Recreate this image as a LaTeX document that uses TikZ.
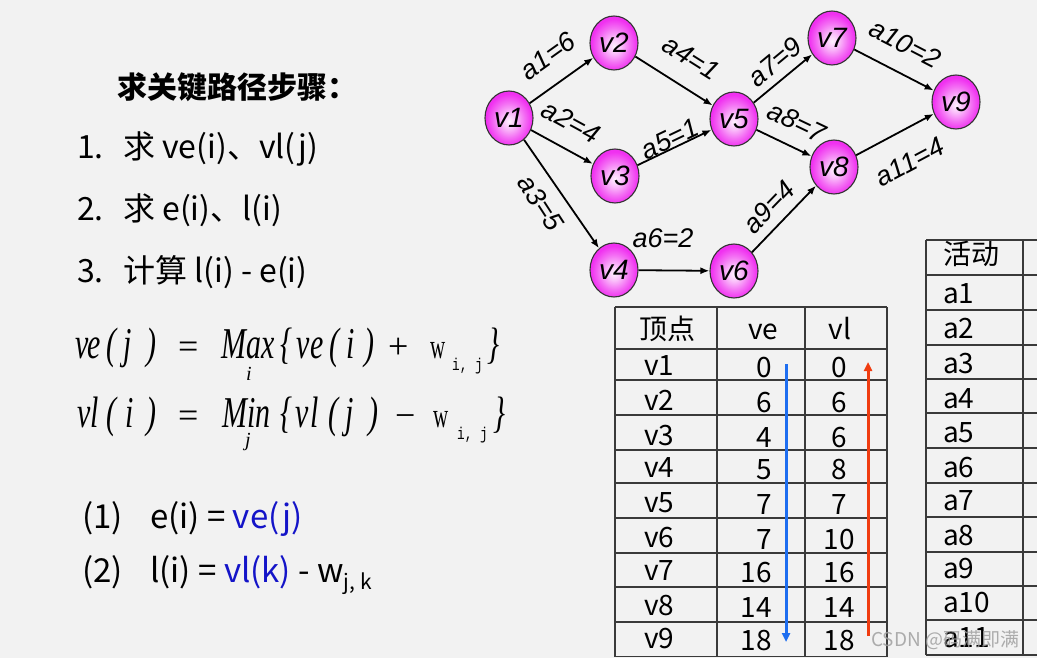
\documentclass[tikz,border=0pt]{standalone}
\usepackage{graphicx}
\usepackage{fontspec}
\setmainfont{Noto Sans CJK SC}
\newfontfamily\serifn{Liberation Serif}
\newfontfamily\monof{Liberation Mono}
\newfontfamily\labf{Liberation Sans}
\usetikzlibrary{shapes.geometric,arrows.meta}
\definecolor{bg}{HTML}{F2F2F2}
\definecolor{nodein}{HTML}{FFF2FF}
\definecolor{nodemid1}{HTML}{FAC0FA}
\definecolor{nodemid2}{HTML}{F470F4}
\definecolor{nodeout}{HTML}{F030F0}
\definecolor{formblue}{HTML}{1414C8}
\definecolor{arrblue}{HTML}{1E6EF0}
\definecolor{arrred}{HTML}{F03C10}
\definecolor{gridc}{HTML}{3A3A3A}
\pgfdeclareradialshading{nodeshade}{\pgfpoint{0bp}{-3bp}}{color(0bp)=(nodein); color(7bp)=(nodemid1); color(16bp)=(nodemid2); color(24bp)=(nodeout); color(50bp)=(nodeout)}
\newcommand{\fmit}[1]{\scalebox{0.68}[1]{\serifn\itshape\fontsize{44}{44}\selectfont #1}}
\newcommand{\fmup}[1]{{\serifn\fontsize{36}{36}\selectfont #1}}
\newcommand{\fmw}{\scalebox{0.6}[1]{\serifn\fontsize{35}{35}\selectfont w}}
\newcommand{\fmij}{\scalebox{0.75}[1]{\monof\fontsize{17}{17}\selectfont i, j}}
\tikzset{
  txt/.style={inner sep=0pt, anchor=base west},
  vert/.style={ellipse, draw=black!80, line width=1.1pt, shading=nodeshade,
    minimum width=48pt, minimum height=54pt, inner sep=0pt,
    font=\labf\itshape\fontsize{28}{28}\selectfont},
  edge/.style={-{Latex[length=9pt,width=7pt]}, line width=1.8pt},
  lab/.style={inner sep=0pt, font=\labf\itshape\fontsize{27}{27}\selectfont},
  grid/.style={gridc, line width=1.3pt},
  cell/.style={inner sep=0pt, anchor=base west, font=\fontsize{28}{28}\selectfont},
  fpc/.style={inner sep=0pt, anchor=base west},
  fsub/.style={inner sep=0pt, anchor=base west, font=\serifn\itshape\fontsize{20}{20}\selectfont},
  stepf/.style={inner sep=0pt, anchor=base west, font=\fontsize{32}{32}\selectfont},
  eqf/.style={inner sep=0pt, anchor=base west, font=\fontsize{33}{33}\selectfont},
}
\begin{document}
\begin{tikzpicture}[x=1pt,y=-1pt]
\fill[bg] (0,0) rectangle (1037,658);
\useasboundingbox (0,0) rectangle (1037,658);

% ---- left text ----
\node[txt, font=\bfseries\fontsize{30}{30}\selectfont] (title) at (117,99) {求关键路径步骤：};
\node[stepf] (n1) at (77,159) {1.};
\node[stepf] (s1) at (123,159) {求 ve(i)、vl(j)};
\node[stepf] (n2) at (77,221) {2.};
\node[stepf] (s2) at (123,221) {求 e(i)、l(i)};
\node[stepf] (n3) at (77,282) {3.};
\node[stepf] (s3) at (123,282) {计算 l(i) - e(i)};

% ---- formulas ----
\foreach \x/\t [count=\k] in {75/v, 87/e, 106/(, 123/j, 146/), 221/Max, 280/\{, 296/v, 310/e, 329/(, 346/i, 364/), 487/\}}
  \node[fpc] (fa\k) at (\x,358) {\fmit{\t}};
\node[fpc] (fa-eq) at (178,358) {\fmup{=}};
\node[fpc] (fa-pl) at (388,358) {\fmup{+}};
\node[fpc] (fa-w) at (430,358) {\fmw};
\node[fpc] (fa-ij) at (452,370) {\fmij};
\node[fsub] (fa-sub) at (246,380) {i};

\foreach \x/\t [count=\k] in {77/v, 90/l, 106/(, 125/i, 146/), 222/Min, 280/\{, 295/v, 310/l, 328/(, 345/j, 368/), 493/\}}
  \node[fpc] (fb\k) at (\x,427) {\fmit{\t}};
\node[fpc] (fb-eq) at (178,427) {\fmup{=}};
\node[fpc] (fb-mi) at (395,427) {\fmup{−}};
\node[fpc] (fb-w) at (433,427) {\fmw};
\node[fpc] (fb-ij) at (457,439) {\fmij};
\node[fsub] (fb-sub) at (245,446) {j};

\node[eqf] (p1) at (82,528) {(1)};
\node[eqf] (e1) at (150,528) {e(i) = \textcolor{formblue}{ve(j)}};
\node[eqf] (p2) at (82,582) {(2)};
\node[eqf] (e2) at (150,582) {l(i) = \textcolor{formblue}{vl(k)} - w\raisebox{-7pt}{\fontsize{21}{21}\selectfont j, k}};

% ---- graph ----
\node[vert] (v1) at (509,118) {v1};
\node[vert] (v2) at (614,43) {v2};
\node[vert] (v3) at (615,176) {v3};
\node[vert] (v4) at (614,270) {v4};
\node[vert] (v5) at (734,119) {v5};
\node[vert] (v6) at (734,271) {v6};
\node[vert] (v7) at (832,38) {v7};
\node[vert] (v8) at (834,167) {v8};
\node[vert] (v9) at (956,102) {v9};

\draw[edge] (v1) -- (v2);
\draw[edge] (v1) -- (v3);
\draw[edge] (v1) -- (v4);
\draw[edge] (v2) -- (v5);
\draw[edge] (v3) -- (v5);
\draw[edge] (v4) -- (v6);
\draw[edge] (v5) -- (v7);
\draw[edge] (v5) -- (v8);
\draw[edge] (v6) -- (v8);
\draw[edge] (v7) -- (v9);
\draw[edge] (v8) -- (v9);

\node[lab, rotate=35.5] (l1) at (548,56) {a1=6};
\node[lab, rotate=-28.7] (l2) at (571,122) {a2=4};
\node[lab, rotate=-57] (l3) at (541,203) {a3=5};
\node[lab, rotate=-32.3] (l4) at (691,58) {a4=1};
\node[lab, rotate=25.6] (l5) at (670,139) {a5=1};
\node[lab] (l6) at (663,238) {a6=2};
\node[lab, rotate=39.6] (l7) at (775,62) {a7=9};
\node[lab, rotate=-25.6] (l8) at (797,122) {a8=7};
\node[lab, rotate=46] (l9) at (769,207) {a9=4};
\node[lab, rotate=-27.3] (l10) at (905,44) {a10=2};
\node[lab, rotate=28] (l11) at (910,162) {a11=4};

% ---- vertex table ----
\foreach \x in {615,717,805,887} \draw[grid] (\x,307) -- (\x,657);
\foreach \y in {307,349,380,415,450,483,518,553,587,622,656.5} \draw[grid] (615,\y) -- (887,\y);
\node[cell] (h1) at (639,339) {顶点};
\node[cell, anchor=base] (h2) at (763,339) {ve};
\node[cell, anchor=base] (h3) at (840,339) {vl};
\foreach \i/\yb/\ve/\vl in {1/375/0/0, 2/410/6/6, 3/445/4/6, 4/477/5/8, 5/512/7/7, 6/547/7/10, 7/580/16/16, 8/615/14/14, 9/648/18/18}{
  \node[cell] (r\i) at (644,\yb) {v\i};
  \node[cell, anchor=base east] (ve\i) at (772,\yb+2) {\ve};
  \node[cell, anchor=base] (vl\i) at (839,\yb+2) {\vl};
}
\coordinate (bt) at (786,364);
\coordinate (bb) at (786,642);
\coordinate (rt) at (868,362);
\coordinate (rb) at (868,636);
\draw[arrblue, line width=3pt, -{Triangle[length=9pt,width=8pt]}] (bt) -- (bb);
\draw[arrred, line width=3pt, -{Triangle[length=9pt,width=8pt]}] (rb) -- (rt);

% ---- activity table ----
\foreach \x in {926,1023} \draw[grid] (\x,240) -- (\x,655);
\foreach \y in {240,275,310,345,379,413,448,483,517,552,586,620,655} \draw[grid] (926,\y) -- (1037,\y);
\node[cell] (ah) at (943,265) {活动};
\foreach \i/\yb in {1/303, 2/338, 3/373, 4/408, 5/442, 6/477, 7/510, 8/545, 9/578, 10/612, 11/647}{
  \node[cell] (a\i) at (943,\yb) {a\i};
}

% ---- watermark ----
\node[txt, text=gray!75, font=\fontsize{19}{19}\selectfont, opacity=0.85] (wm) at (871,646) {CSDN @码满即满};
\end{tikzpicture}
\end{document}
